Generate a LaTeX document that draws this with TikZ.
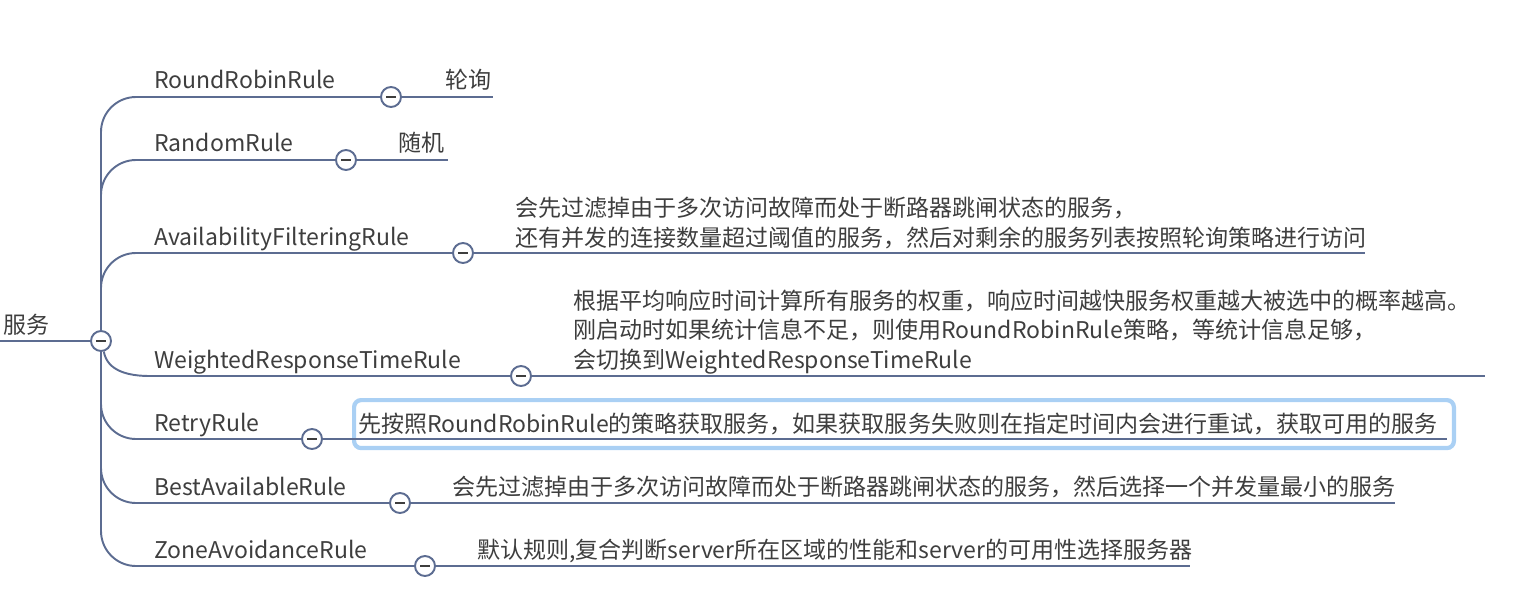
\documentclass[tikz,border=0pt]{standalone}
\usepackage{fontspec}
\setmainfont{Noto Sans CJK SC}
\usetikzlibrary{positioning}
\definecolor{branchclr}{RGB}{92,108,145}
\definecolor{txtgray}{RGB}{62,62,62}
\definecolor{hiliteclr}{RGB}{170,208,244}
\tikzset{
  % Connector lines
  branchline/.style = {draw=branchclr, line width=1.1pt},
  trunkline/.style  = {branchline, rounded corners=0.7cm},
  % Fold buttons
  foldbtn/.style    = {circle, draw=branchclr, fill=white, line width=1.1pt,
                       minimum size=0.4cm, inner sep=0pt,
                       path picture={\draw[txtgray, line width=1.1pt]
                         ([xshift=-2.6pt]path picture bounding box.center) --
                         ([xshift=2.6pt]path picture bounding box.center);}},
  % Labels
  rulelab/.style    = {anchor=base west, inner sep=0pt, text=txtgray,
                       font=\fontsize{13.1}{16.7}\selectfont},
  desclab/.style    = {rulelab, align=left},
  hilitebox/.style  = {draw=hiliteclr, line width=2.4pt, rounded corners=4pt},
}
\begin{document}
\begin{tikzpicture}[x=0.02cm, y=-0.02cm]
  \useasboundingbox (0,0) rectangle (1525,599);
  % root
  \node[rulelab] (rootlab) at (3,333) {服务};
  \coordinate (rootL) at (0,341);
  \node[foldbtn] (rootbtn) at (101,341) {};
  % branch buttons and line ends
  \node[foldbtn] (rrbtn)   at (391,97)  {};
  \node[foldbtn] (randbtn) at (346,160) {};
  \node[foldbtn] (availbtn) at (463,253) {};
  \node[foldbtn] (wrtbtn)  at (521,376) {};
  \node[foldbtn] (retrybtn) at (312,439) {};
  \node[foldbtn] (bestbtn) at (400,503) {};
  \node[foldbtn] (zonebtn) at (425,566) {};
  \coordinate (rrend)    at (493,97);
  \coordinate (randend)  at (448,160);
  \coordinate (availend) at (1365,253);
  \coordinate (wrtstart) at (150,376);
  \coordinate (wrtend)   at (1485,376);
  \coordinate (retryend) at (1447,439);
  \coordinate (bestend)  at (1395,503);
  \coordinate (zoneend)  at (1190,566);
  % rule names
  \node[rulelab] (rrlab)    at (154,88)  {RoundRobinRule};
  \node[rulelab] (randlab)  at (154,151) {RandomRule};
  \node[rulelab] (availlab) at (154,245) {AvailabilityFilteringRule};
  \node[rulelab] (wrtlab)   at (154,368) {WeightedResponseTimeRule};
  \node[rulelab] (retrylab) at (154,431) {RetryRule};
  \node[rulelab] (bestlab)  at (154,495) {BestAvailableRule};
  \node[rulelab] (zonelab)  at (154,558) {ZoneAvoidanceRule};
  % descriptions (base = last line)
  \node[rulelab] (rrdesc)   at (445,88)  {轮询};
  \node[rulelab] (randdesc) at (398,151) {随机};
  \node[desclab] (availdesc) at (515,246)
    {会先过滤掉由于多次访问故障而处于断路器跳闸状态的服务，\\
     还有并发的连接数量超过阈值的服务，然后对剩余的服务列表按照轮询策略进行访问};
  \node[desclab] (wrtdesc) at (573,368)
    {根据平均响应时间计算所有服务的权重，响应时间越快服务权重越大被选中的概率越高。\\
     刚启动时如果统计信息不足，则使用RoundRobinRule策略，等统计信息足够，\\
     会切换到WeightedResponseTimeRule};
  \node[hilitebox, anchor=north west, minimum width=22cm, minimum height=0.96cm]
    (retrybox) at (352,398) {};
  \node[rulelab] (retrydesc) at (358,432)
    {先按照RoundRobinRule的策略获取服务，如果获取服务失败则在指定时间内会进行重试，获取可用的服务};
  \node[rulelab] (bestdesc) at (452,495)
    {会先过滤掉由于多次访问故障而处于断路器跳闸状态的服务，然后选择一个并发量最小的服务};
  \node[rulelab] (zonedesc) at (477,558)
    {默认规则,复合判断server所在区域的性能和server的可用性选择服务器};
  % connectors
  \draw[branchline] (rootL) -- (rootbtn);
  \draw[trunkline] (rootbtn.north) |- (rrbtn);
  \draw[trunkline] (rootbtn.north) |- (randbtn);
  \draw[trunkline] (rootbtn.north) |- (availbtn);
  \draw[branchline] (rootbtn.-75) to[out=-80, in=180] (wrtstart) -- (wrtbtn);
  \draw[trunkline] (rootbtn.south) |- (retrybtn);
  \draw[trunkline] (rootbtn.south) |- (bestbtn);
  \draw[trunkline] (rootbtn.south) |- (zonebtn);
  \draw[branchline] (rrbtn) -- (rrend);
  \draw[branchline] (randbtn) -- (randend);
  \draw[branchline] (availbtn) -- (availend);
  \draw[branchline] (wrtbtn) -- (wrtend);
  \draw[branchline] (retrybtn) -- (retryend);
  \draw[branchline] (bestbtn) -- (bestend);
  \draw[branchline] (zonebtn) -- (zoneend);
\end{tikzpicture}
\end{document}
